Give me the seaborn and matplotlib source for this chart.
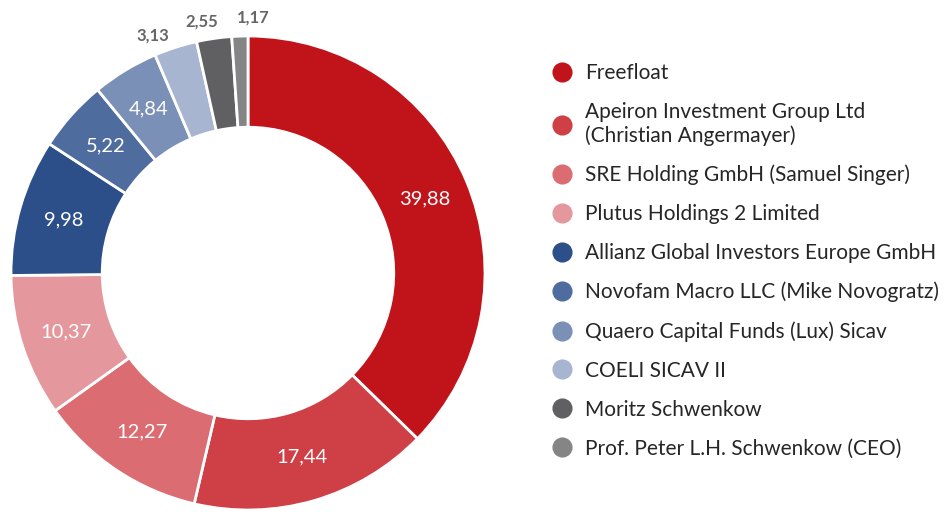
import numpy as np
import matplotlib
matplotlib.use("Agg")
import matplotlib.pyplot as plt
from matplotlib.lines import Line2D
import seaborn as sns

labels = [
    "Freefloat",
    "Apeiron Investment Group Ltd\n(Christian Angermayer)",
    "SRE Holding GmbH (Samuel Singer)",
    "Plutus Holdings 2 Limited",
    "Allianz Global Investors Europe GmbH",
    "Novofam Macro LLC (Mike Novogratz)",
    "Quaero Capital Funds (Lux) Sicav",
    "COELI SICAV II",
    "Moritz Schwenkow",
    "Prof. Peter L.H. Schwenkow (CEO)",
]
values = [39.88, 17.44, 12.27, 10.37, 9.98, 5.22, 4.84, 3.13, 2.55, 1.17]
value_labels = ["39,88", "17,44", "12,27", "10,37", "9,98", "5,22", "4,84", "3,13", "2,55", "1,17"]
colors = ["#C0141A", "#CF3F46", "#DA6C72", "#E4989D", "#2C4F8A",
          "#4F6C9F", "#7B90B7", "#A7B5D0", "#606062", "#858585"]
outside = [False] * 7 + [True] * 3
# angular nudge (degrees) for the small outside labels so they do not collide
label_nudge = [0, 0, 0, 0, 0, 0, 0, 4.0, 2.2, -3.2]

sns.set_theme(style="white")
plt.rcParams["font.family"] = ["Lato", "DejaVu Sans"]

W, H = 945, 512
fig = plt.figure(figsize=(W / 100, H / 100), dpi=100)
cx, cy, R = 248, 273, 237
ax = fig.add_axes([(cx - R) / W, (H - cy - R) / H, 2 * R / W, 2 * R / H])

width = 0.385
wedges, _ = ax.pie(values, colors=colors, startangle=90, counterclock=False,
                   radius=1, wedgeprops=dict(width=width, edgecolor="white", linewidth=2))
ax.set_xlim(-1, 1)
ax.set_ylim(-1, 1)
ax.set_aspect("equal")
ax.axis("off")

total = sum(values)
cum = 0.0
for v, lab, out, nd in zip(values, value_labels, outside, label_nudge):
    mid = 90 - 360 * (cum + v / 2) / total + nd
    cum += v
    a = np.deg2rad(mid)
    if out:
        r = 1.08
        ax.text(r * np.cos(a), r * np.sin(a), lab, ha="center", va="center",
                fontsize=12, fontweight="bold", color="#666666", clip_on=False)
    else:
        r = 1 - width / 2
        ax.text(r * np.cos(a), r * np.sin(a), lab, ha="center", va="center",
                fontsize=14.5, color="white")

handles = [Line2D([0], [0], marker="o", linestyle="", markersize=13.5,
                  markerfacecolor=c, markeredgecolor=c) for c in colors]
leg = fig.legend(handles, labels, loc="upper left", bbox_to_anchor=(549 / W, 1 - 63 / H),
                 frameon=False, fontsize=15, labelspacing=0.905, handletextpad=0.55,
                 handlelength=1.2, borderaxespad=0, borderpad=0)
for t in leg.get_texts():
    t.set_color("#262626")

fig.savefig("out.png", dpi=100)
